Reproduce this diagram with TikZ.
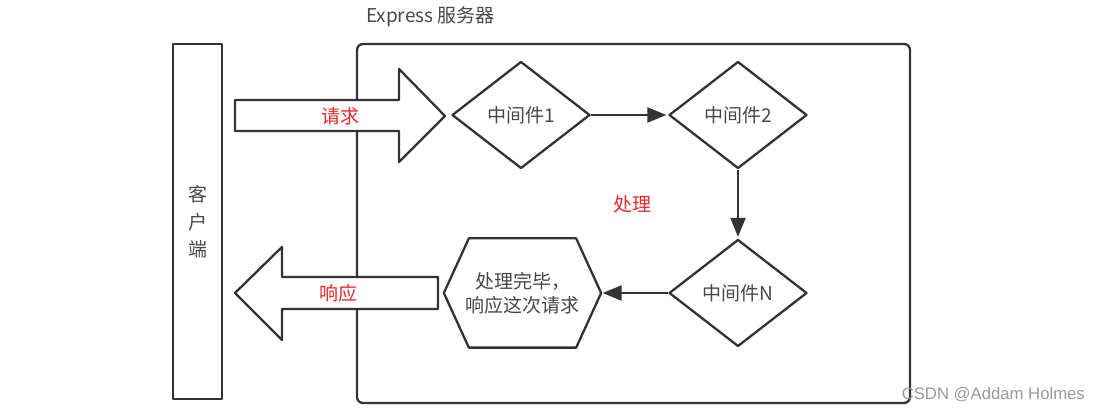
\documentclass[tikz,border=0pt]{standalone}
\usepackage{fontspec}
\setmainfont{Liberation Sans}
\newfontfamily\cjk{Noto Sans CJK SC}
\usetikzlibrary{shapes.geometric,arrows.meta}
\definecolor{ln}{HTML}{333333}
\definecolor{tx}{HTML}{484848}
\definecolor{rd}{HTML}{E8282B}
\definecolor{wm}{HTML}{9A9A9A}
\begin{document}
\begin{tikzpicture}[x=1pt,y=-1pt,
  line width=2.3pt, draw=ln, line join=round,
  box/.style={draw=ln, line width=2.3pt},
  dia/.style={diamond, draw=ln, line width=2.3pt, minimum width=138pt, minimum height=107pt, inner sep=0pt, aspect=1.29, font=\cjk\fontsize{19}{24}\selectfont, text=tx},
  lbl/.style={font=\cjk\fontsize{19}{24}\selectfont, text=tx, inner sep=0pt},
  red/.style={font=\cjk\fontsize{19}{24}\selectfont, text=rd, inner sep=0pt},
  conn/.style={draw=ln, line width=2.3pt, shorten >=1.5pt, -{Triangle[length=19pt,width=15pt]}}
]
\useasboundingbox (0,0) rectangle (1101,411);
\fill[white] (0,0) rectangle (1101,411);

% server box
\draw[box, rounded corners=6pt] (357,44) rectangle (910,403);
\node[lbl, anchor=west] (title) at (365,17) {Express 服务器};

% request block arrow
\draw[box, fill=white] (235,100) -- (399,100) -- (399,69) -- (445,116) -- (399,162) -- (399,131) -- (235,131) -- cycle;
\node[red] (req) at (340,116) {请求};

% response block arrow
\draw[box, fill=white] (438,277) -- (282,277) -- (282,247) -- (235,293) -- (282,340) -- (282,309) -- (438,309) -- cycle;
\node[red] (resp) at (338,293) {响应};

% client box
\draw[box, fill=white] (173,44) rectangle (222,399);
\node[lbl, align=center, font=\cjk\fontsize{19}{27.5}\selectfont] (client) at (198,222) {客\\户\\端};

% diamonds
\node[dia] (d1) at (521,115) {中间件1};
\node[dia] (d2) at (738,115) {中间件2};
\node[dia] (dn) at (738,293) {中间件N};

% hexagon
\node[lbl, align=center, minimum width=155pt, minimum height=107pt] (hex) at (522.5,293) {处理完毕，\\响应这次请求};
\draw[box] (hex.west) -- ([xshift=25pt]hex.north west) -- ([xshift=-25pt]hex.north east) -- (hex.east) -- ([xshift=-25pt]hex.south east) -- ([xshift=25pt]hex.south west) -- cycle;

\node[red] (proc) at (632,204) {处理};

% connectors
\draw[conn] (d1.east) -- (d2.west);
\draw[conn] (d2.south) -- (dn.north);
\draw[conn] (dn.west) -- (hex.east);

\node[font=\fontsize{16.7}{20}\selectfont, text=wm, anchor=east, inner sep=0pt] (wmk) at (1086,395) {CSDN @Addam Holmes};
\end{tikzpicture}
\end{document}
